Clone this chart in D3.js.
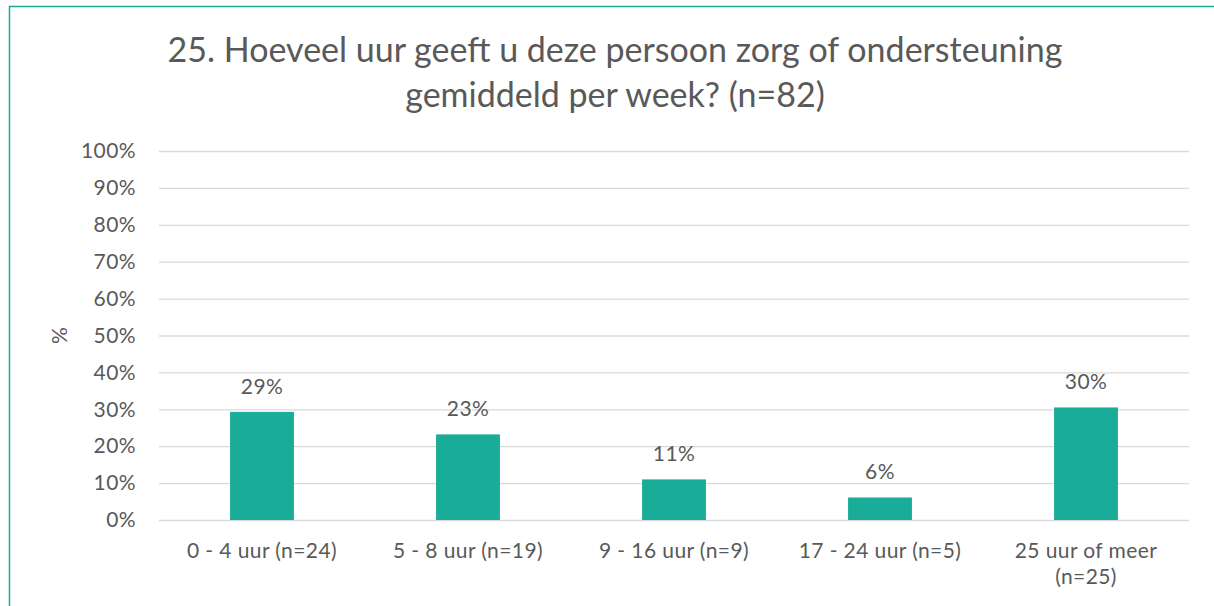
<!DOCTYPE html>
<html>
<head>
<meta charset="utf-8">
<script src="https://cdn.jsdelivr.net/npm/d3@7"></script>
<style>
	html, body { margin: 0; padding: 0; background: #fff; }
	svg { display: block; font-family: Lato, "Open Sans", sans-serif; }
</style>
</head>
<body>
<svg id="chart" width="1214" height="606"></svg>
<script>
// Chart data
const categories = ['0 - 4 uur (n=24)', '5 - 8 uur (n=19)', '9 - 16 uur (n=9)', '17 - 24 uur (n=5)', '25 uur of meer (n=25)']
const values = [29.3, 23.2, 11.0, 6.1, 30.5]
const valueLabels = ['29%', '23%', '11%', '6%', '30%']
const yTicks = [0, 10, 20, 30, 40, 50, 60, 70, 80, 90, 100]
const titleLines = ['25. Hoeveel uur geeft u deze persoon zorg of ondersteuning', 'gemiddeld per week? (n=82)']

const teal = '#19ad99'
const textColor = '#595959'

;(function() {
	let svg = d3.select('#chart')
	let width = +svg.attr('width'), height = +svg.attr('height')
	let margin = { top: 151, right: 25, bottom: 86, left: 159 }

	// outer frame of the chart area
	svg.append('rect')
		.attr('x', 9.5).attr('y', 6.5)
		.attr('width', width + 20).attr('height', height + 20)
		.attr('fill', 'none')
		.attr('stroke', teal)
		.attr('stroke-width', 1.5)

	// title
	svg.append('text')
		.attr('text-anchor', 'middle')
		.attr('fill', textColor)
		.attr('font-size', 34)
		.selectAll('tspan')
		.data(titleLines)
		.join('tspan')
		.attr('x', 615)
		.attr('y', (d, i) => 62 + i * 45)
		.text(d => d)

	let x = d3.scaleBand()
		.domain(categories)
		.range([margin.left, width - margin.right])
		.paddingInner(0.69)
		.paddingOuter(0.345)

	let y = d3.scaleLinear()
		.domain([0, 100])
		.range([height - margin.bottom, margin.top])

	// gridlines + y labels
	let yAxis = svg.append('g')
		.attr('transform', `translate(${margin.left}, 0)`)
		.call(d3.axisLeft(y)
			.tickValues(yTicks)
			.tickSize(-(width - margin.left - margin.right))
			.tickPadding(23)
			.tickFormat(d => d + '%'))
	yAxis.select('.domain').remove()
	yAxis.selectAll('line')
		.attr('stroke', '#d9d9d9')
		.attr('stroke-width', 1.3)
	yAxis.selectAll('text')
		.attr('fill', textColor)
		.attr('font-size', 21)
		.attr('letter-spacing', 0.4)
		.attr('font-family', 'Lato, sans-serif')

	// y axis title
	svg.append('text')
		.attr('transform', `translate(60, ${(y(0) + y(100)) / 2}) rotate(-90)`)
		.attr('text-anchor', 'middle')
		.attr('dy', '0.35em')
		.attr('fill', textColor)
		.attr('font-size', 21)
		.text('%')

	// bars
	svg.append('g')
		.selectAll('rect')
		.data(values)
		.join('rect')
		.attr('x', (d, i) => x(categories[i]))
		.attr('y', d => y(d))
		.attr('width', x.bandwidth())
		.attr('height', d => y(0) - y(d))
		.attr('fill', teal)

	// value labels
	svg.append('g')
		.selectAll('text')
		.data(values)
		.join('text')
		.attr('x', (d, i) => x(categories[i]) + x.bandwidth() / 2)
		.attr('y', d => y(d) - 18)
		.attr('text-anchor', 'middle')
		.attr('fill', textColor)
		.attr('font-size', 21)
		.attr('letter-spacing', 0.4)
		.text((d, i) => valueLabels[i])

	// category labels, wrapped when wider than the band
	let step = x.step()
	let catLabels = svg.append('g')
		.selectAll('text')
		.data(categories)
		.join('text')
		.attr('text-anchor', 'middle')
		.attr('fill', textColor)
		.attr('font-size', 21)
		.attr('letter-spacing', 0.4)
		.attr('y', 558)

	catLabels.each(function(d) {
		let el = d3.select(this)
		let cx = x(d) + x.bandwidth() / 2
		el.append('tspan').attr('x', cx).text(d)
		if (this.getComputedTextLength() > step - 40) {
			el.text(null)
			let cut = d.lastIndexOf(' (')
			el.append('tspan').attr('x', cx).text(d.slice(0, cut))
			el.append('tspan').attr('x', cx).attr('dy', 26).text(d.slice(cut + 1))
		}
	})
})();
</script>
</body>
</html>
